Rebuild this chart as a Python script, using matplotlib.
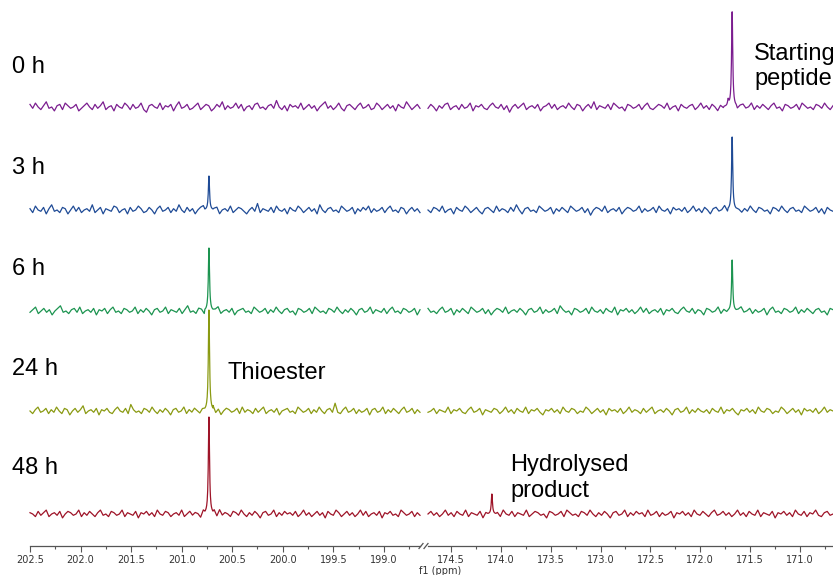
import numpy as np
import matplotlib
matplotlib.use("Agg")
import matplotlib.pyplot as plt
from matplotlib.lines import Line2D
from matplotlib.ticker import MultipleLocator, FormatStrFormatter

W, H = 833, 575

# ---- data -------------------------------------------------------------
times = ["0 h", "3 h", "6 h", "24 h", "48 h"]
colors = ["#7b1d8f", "#1f4b96", "#1c9450", "#8a9a12", "#9e1428"]
offsets = [439, 336, 235, 135, 32]          # vertical stacking offset of each spectrum

thioester_ppm = 200.73
thioester_height = [0, 34, 63, 101, 97]
start_ppm = 171.68
start_height = [95, 73, 51, 0, 0]
shoulder_ppm = 171.72
shoulder_height = [6, 0, 0, 0, 0]
hydro_ppm = 174.09
hydro_height = [0, 0, 0, 0, 20]

noise_scale = 1.3

# baseline noise of each spectrum, left (thioester) and right (amide) windows
noise_left = [
    [2,-1,3,0,-2,1,4,-1,0,-3,1,2,-2,3,1,-1,0,2,-3,-1,1,3,0,-2,2,-1,1,4,-2,0,1,-3,2,0,-1,3,1,-2,2,-1,0,3,-2,-4,1,2,0,-1,3,-2,1,0,2,-3,1,4,-1,0,2,-2,-1,1,3,-2,0,2,1,-3,-1,2,0,4,-2,1,-1,0,3,-1,2,-3,0,1,-2,2,3,-1,0,-2,1,2,-1,5,0,-2,1,-3,2,0,1,-1,3,-2,0,2,-1,1,-3,0,2,4,-1,1,-2,0,3,-1,-3,1,2,0,-2,1,3,-1,0,2,-2,-1,3,1,-2,0,2,-1,1,-3,2,0,-1,4,1,-2,0,2,-1],
    [1,-2,3,0,-1,2,-3,1,4,-1,0,-2,2,1,-3,0,3,-1,2,-2,0,1,-1,4,-2,0,2,-3,1,0,-1,3,2,-2,0,1,-3,2,-1,0,3,1,-2,-1,2,0,-3,1,3,-1,0,2,-2,1,-1,4,0,-2,2,-1,1,-3,0,2,3,-1,0,-2,1,2,-3,0,1,-1,3,-2,0,2,1,-1,-3,0,2,-1,5,-2,1,0,-1,2,-2,3,0,-1,1,-3,2,0,-1,3,1,-2,0,2,-1,1,-3,4,0,-2,1,2,-1,0,-2,3,1,-1,0,2,-3,1,-1,2,0,3,-2,1,-1,0,2,-2,1,3,-1,0,-2,2,1,-3,0,2,-1,1,-2],
    [-1,1,3,-2,0,2,-1,1,-3,0,2,4,-1,0,-2,1,2,-1,3,-2,0,1,-1,2,-3,1,0,2,-2,1,3,-1,0,-2,2,1,-1,0,3,-2,1,-1,2,0,-3,1,2,-1,0,3,-2,1,0,-1,2,-2,1,4,-1,0,-2,2,1,-3,0,2,-1,1,3,-2,0,1,-1,2,-3,0,1,2,-1,0,-2,3,1,-1,0,2,-2,1,-1,3,0,-2,1,2,-1,0,-3,2,1,-1,0,2,-2,3,1,-1,0,-2,2,1,-1,3,0,-2,1,-1,2,0,-3,1,2,-1,0,3,-2,1,0,-1,2,-2,1,3,-1,0,-2,2,1,-1,0,2,-3,1],
    [0,-2,1,3,-1,0,2,-2,1,-1,3,0,-2,2,1,-3,0,2,-1,1,4,-2,0,1,-1,2,-3,1,0,2,-1,-2,1,3,0,-1,2,-2,5,1,-1,0,-2,2,1,-1,3,0,-2,1,-1,2,0,-3,1,2,-1,0,3,-2,1,-1,2,0,-2,1,3,-1,0,2,-2,1,-3,0,2,1,-1,0,2,-2,3,-1,1,0,-2,2,-1,1,3,-2,0,1,-1,2,-3,0,1,2,-1,0,-2,3,1,-1,0,2,-2,1,-1,3,0,-2,1,2,-1,6,-1,-2,1,3,-1,0,2,-2,1,-1,0,2,-3,1,2,-1,0,3,-2,1,-1,2,0,-2,1,3,-1,0,2,-2,1,-1],
    [1,0,-2,2,-1,1,3,-2,0,1,-1,2,-3,0,2,1,-1,0,3,-2,1,-1,2,0,-2,1,3,-1,0,-2,2,1,-1,0,3,-2,1,0,-1,2,-3,1,0,2,-1,1,-2,3,0,-1,2,1,-2,0,1,-1,3,-2,0,2,-1,1,0,-3,2,1,-1,0,2,-2,3,-1,1,0,-2,2,1,-1,3,0,-2,1,-1,2,0,-3,1,2,-1,0,3,-2,1,-1,2,0,1,-1,2,-2,0,3,-1,1,-2,0,2,-1,1,-3,2,0,-1,3,1,-2,0,2,-1,1,-2,0,3,-1,2,-2,0,1,-1,2,-3,1,0,2,-1,0,-2,3,1,-1,0,2,-2,1,-1],
]
noise_right = [
    [-1,2,0,-3,1,-1,2,3,-2,0,1,-2,2,-1,0,3,-3,1,0,2,-1,-2,1,3,0,-1,2,-2,1,-4,0,2,-1,1,3,-2,0,1,-1,2,-3,0,1,3,-1,2,-2,0,1,-1,3,0,-2,2,1,-3,0,2,-1,4,-2,1,0,-1,2,-2,3,1,-1,0,-3,2,1,-1,0,2,-2,1,3,-1,-2,0,2,1,-1,3,-2,0,1,-3,2,0,-1,1,2,-2,0,3,-1,1,-2,2,0,-3,1,-1,2,4,-1,0,-2,1,2,-1,0,3,-2,1,-1,2,0,-2,1,3,-1,0,-3,2,1,-1,0,2,-2,3,1,-1,0,-2,2,1,-1,3,0,-2,1],
    [0,-2,2,1,-1,3,-2,0,1,-3,2,0,-1,3,1,-2,0,2,-1,-3,1,2,0,-2,3,-1,1,0,-2,2,-1,4,0,-3,1,2,-1,0,-2,3,1,-1,0,2,-3,1,-1,2,0,-2,3,1,-1,0,2,-2,1,-4,0,2,1,-1,3,-2,0,1,-1,2,-3,0,2,1,-1,0,3,-2,1,-1,0,2,-2,3,0,-1,1,-3,2,0,1,-1,2,-2,0,3,-1,1,-2,2,0,-3,1,2,-1,0,3,-2,1,-1,2,0,-2,1,-1,3,0,-2,2,1,-1,0,-3,2,1,-1,3,0,-2,1,2,-1,0,-2,3,1,-1,0,2,-2,1,-3,2,0,-1],
    [2,-1,0,-2,1,3,-1,0,2,-3,1,-1,2,0,-2,3,1,-1,0,2,-2,1,-3,0,2,1,-1,3,-2,0,1,-1,2,0,-3,1,2,-1,0,3,-2,1,-1,0,2,-2,4,1,-1,0,-3,2,1,-1,0,2,-2,3,0,-1,1,-2,2,0,-1,3,-3,1,0,2,-1,1,-2,0,3,-1,2,-2,0,1,-1,2,-3,1,0,2,-1,-2,1,3,0,-1,2,-2,1,0,-3,2,1,-1,0,3,-2,1,-1,2,0,-2,1,3,-1,0,2,-2,1,-1,0,2,-3,1,3,-1,0,-2,2,1,-1,0,3,-2,1,-1,2,0,-2,1,2,-1,0,-3,2,1],
    [-1,0,2,-2,1,0,-1,3,-2,1,0,2,-1,-2,1,3,-1,0,2,-3,1,0,-1,2,1,-2,0,3,-1,1,-2,2,0,-1,3,-2,1,0,2,-1,-3,1,0,2,-1,1,-2,3,0,-1,2,1,-2,0,-1,3,1,-2,0,2,-1,1,-3,2,0,1,-1,2,-2,0,3,-1,1,0,-2,2,-1,1,3,-2,0,1,-1,2,0,-3,1,2,-1,0,3,-2,1,-1,2,0,-1,1,-2,2,0,-1,3,-2,1,0,2,-1,-3,1,0,2,-1,1,-2,3,0,-1,2,1,-2,0,-1,3,1,-2,0,2,-1,1,-3,2,0,1,-1,2,-2,0,3,-1,1,0],
    [0,2,-1,1,-2,0,3,-1,1,-2,2,0,-1,3,-2,1,0,-1,2,-3,1,0,2,-1,1,-2,3,0,-1,2,-2,1,0,-1,3,-2,0,2,1,-1,0,-3,2,1,-1,0,2,-2,3,1,-1,0,-2,2,1,-1,3,0,-2,1,-1,2,0,-3,1,2,-1,0,3,-2,1,-1,2,0,1,-2,3,-1,0,2,-2,1,-1,0,2,-3,1,0,2,-1,1,-2,3,0,-1,2,0,-2,1,3,-1,0,2,-1,1,-2,0,3,-1,1,-2,2,0,-1,3,-2,1,0,-1,2,-3,1,0,2,-1,1,-2,3,0,-1,2,-2,1,0,3,-1,-2,1,2,-1,0],
]

# ---- pixel layout of the two ppm windows -------------------------------
left_px = (30, 420)
right_px = (428, 833)
left_ppm = (202.5, 202.5 - (left_px[1] - 30) / 101.1)
right_ppm = (174.5 + (451 - right_px[0]) / 99.7, 174.5 - (right_px[1] - 451) / 99.7)
axis_y = 546          # pixel row of the ppm axis


def build_trace(lo, hi, noise, offset, peaks, gamma=0.007, window=0.04):
    x = np.linspace(lo, hi, len(noise))
    y = np.asarray(noise, dtype=float) * noise_scale
    keep = np.ones(len(x), dtype=bool)
    extra = []
    for c, h in peaks:
        if h > 0:
            keep &= np.abs(x - c) > window
            extra.append(c + np.linspace(-window, window, 33))
    xs = np.concatenate([x[keep]] + extra)
    ys = np.concatenate([y[keep]] + [np.zeros(len(e)) for e in extra])
    for c, h in peaks:
        if h > 0:
            ys += h * gamma**2 / (gamma**2 + (xs - c) ** 2)
    order = np.argsort(xs)
    return xs[order], ys[order] + offset


fig = plt.figure(figsize=(W / 100, H / 100), dpi=100)
fig.patch.set_facecolor("white")

bottom = (H - axis_y) / H
height = axis_y / H
axL = fig.add_axes([left_px[0] / W, bottom, (left_px[1] - left_px[0]) / W, height])
axR = fig.add_axes([right_px[0] / W, bottom, (right_px[1] - right_px[0]) / W, height])

for i in range(len(times)):
    pl = [(thioester_ppm, thioester_height[i])]
    pr = [(start_ppm, start_height[i]), (shoulder_ppm, shoulder_height[i]),
          (hydro_ppm, hydro_height[i])]
    xl, yl = build_trace(left_ppm[0], left_ppm[1], noise_left[i], offsets[i], pl)
    xr, yr = build_trace(right_ppm[0], right_ppm[1], noise_right[i], offsets[i], pr)
    axL.plot(xl, yl, color=colors[i], lw=0.9, clip_on=False)
    axR.plot(xr, yr, color=colors[i], lw=0.9, clip_on=False)

for ax, lim in ((axL, left_ppm), (axR, right_ppm)):
    ax.set_xlim(lim)
    ax.set_ylim(0, axis_y)
    ax.patch.set_alpha(0)
    for s in ("top", "left", "right"):
        ax.spines[s].set_visible(False)
    ax.spines["bottom"].set_color("#555555")
    ax.spines["bottom"].set_linewidth(0.9)
    ax.set_yticks([])
    ax.xaxis.set_major_locator(MultipleLocator(0.5))
    ax.xaxis.set_minor_locator(MultipleLocator(0.25))
    ax.xaxis.set_major_formatter(FormatStrFormatter("%.1f"))
    ax.tick_params(axis="x", which="major", direction="out", length=4.5, width=0.8,
                   color="#555555", labelsize=7, labelcolor="#333333", pad=2)
    ax.tick_params(axis="x", which="minor", direction="out", length=2.5, width=0.8,
                   color="#555555")

# axis break marks
for x0 in (419, 424):
    fig.add_artist(Line2D([x0 / W, (x0 + 4) / W],
                          [1 - (axis_y + 2.5) / H, 1 - (axis_y - 2.5) / H],
                          color="#555555", lw=0.9))

fig.text(440 / W, 1 - 571 / H, "f1 (ppm)", ha="center", va="center",
         fontsize=7, color="#333333")

label_font = dict(family="Liberation Sans", fontsize=17, color="black", va="baseline")
label_base = [73, 174, 275, 375, 474]
for t, yb in zip(times, label_base):
    fig.text(12 / W, 1 - yb / H, t, ha="left", **label_font)

fig.text(228 / W, 1 - 379 / H, "Thioester", ha="left", **label_font)
fig.text(754 / W, 1 - 60 / H, "Starting", ha="left", **label_font)
fig.text(754 / W, 1 - 85 / H, "peptide", ha="left", **label_font)
fig.text(510 / W, 1 - 471 / H, "Hydrolysed", ha="left", **label_font)
fig.text(510 / W, 1 - 497 / H, "product", ha="left", **label_font)

fig.savefig("out.png", dpi=100, facecolor="white")
